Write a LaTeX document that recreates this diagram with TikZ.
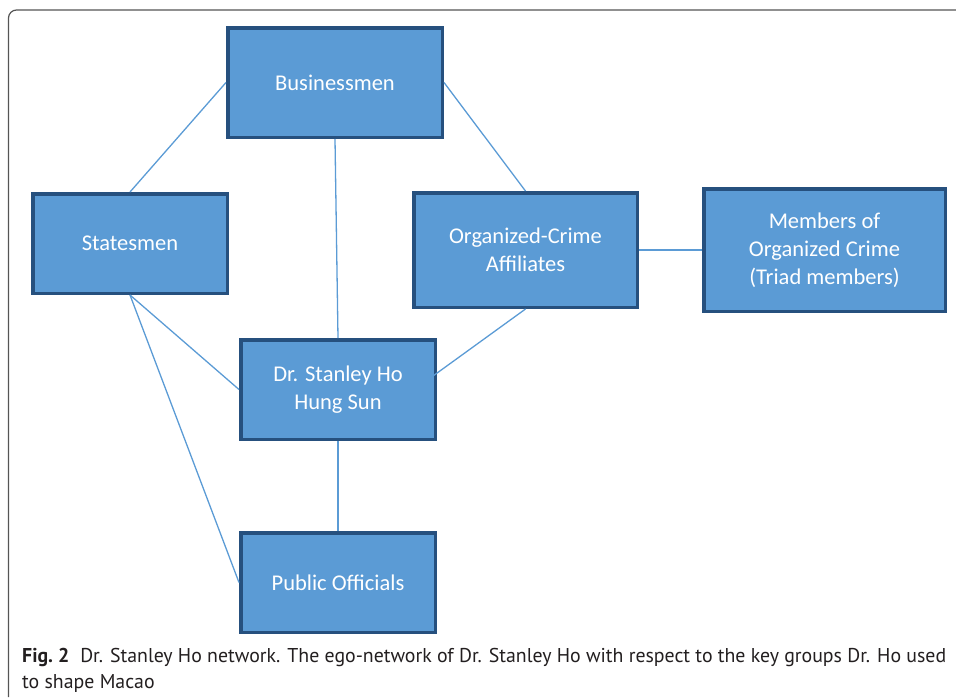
\documentclass[tikz,border=0pt]{standalone}
\usepackage{fontspec}
\setmainfont{Carlito}
\newfontfamily\capfont{PT Sans}
\definecolor{boxfill}{HTML}{5B9BD5}
\definecolor{boxline}{HTML}{26507E}
\definecolor{linkc}{HTML}{5B9BD5}
\definecolor{framec}{HTML}{555555}
\definecolor{captxt}{HTML}{231F20}
\newlength\capw
\newcommand\capsize{\capfont\fontsize{20}{26}\selectfont}
\newcommand\capone{\textbf{Fig.~2}\hspace{0.55em}Dr. Stanley Ho network. The ego-network of Dr. Stanley Ho with respect to the key groups Dr. Ho used}
\begin{document}
\settowidth{\capw}{\capsize\capone}
\makeatletter
\edef\capsc{\fpeval{924/max(1,\strip@pt\capw)}}
\makeatother
\begin{tikzpicture}[x=1pt,y=-1pt,
  grpbox/.style={draw=boxline, fill=boxfill, line width=3.5pt, inner sep=0pt,
    text=white, align=center, font=\fontsize{22.5}{28}\selectfont},
  link/.style={draw=linkc, line width=1.3pt},
  capline/.style={anchor=base west, inner sep=0pt, text=captxt}]
\useasboundingbox (0,0) rectangle (956,697);
\draw[framec, line width=1.2pt, rounded corners=8pt] (8.5,697) -- (8.5,10) -- (956,10);
\node[grpbox, minimum width=214.5pt, minimum height=109.5pt] (bus) at (335,82.5) {Businessmen};
\node[grpbox, minimum width=194.5pt, minimum height=99.5pt] (sta) at (130,243.5) {Statesmen};
\node[grpbox, minimum width=223.5pt, minimum height=114.5pt] (org) at (525.5,250) {Organized-Crime\\Affiliates};
\node[grpbox, minimum width=241.5pt, minimum height=122.5pt] (mem) at (824.5,250) {Members of\\Organized Crime\\(Triad members)};
\node[grpbox, minimum width=194.5pt, minimum height=99.5pt] (ho) at (338,389.5) {Dr. Stanley Ho\\Hung Sun};
\node[grpbox, minimum width=194.5pt, minimum height=99.5pt] (pub) at (338,582.5) {Public Officials};
\coordinate (hoin) at (415,389);
\draw[link] (bus.west) -- (sta.north);
\draw[link] (bus.east) -- (org.north);
\draw[link] (bus.south) -- (ho.north);
\draw[link] (org.east) -- (mem.west);
\draw[link] (org.south) -- (hoin);
\draw[link] (sta.south) -- (ho.west);
\draw[link] (sta.south) -- (pub.west);
\draw[link] (ho.south) -- (pub.north);
\node[capline] (cap1) at (22,662) {\scalebox{\capsc}[1]{\capsize\capone}};
\node[capline] (cap2) at (22,688) {\scalebox{\capsc}[1]{\capsize to shape Macao}};
\end{tikzpicture}
\end{document}
